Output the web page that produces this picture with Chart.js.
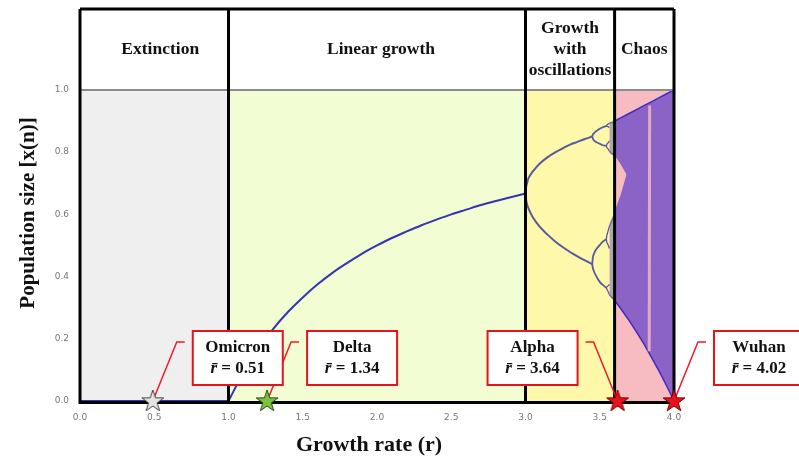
<!DOCTYPE html>
<html>
<head>
<meta charset="utf-8">
<script src="https://cdn.jsdelivr.net/npm/chart.js@4.4.0/dist/chart.umd.min.js"></script>
<style>
  html, body { margin: 0; padding: 0; background: #fff; }
  #wrap { width: 799px; height: 457px; position: relative; }
</style>
</head>
<body>
<div id="wrap"><canvas id="c"></canvas></div>
<script>
// regimes along the growth-rate axis
const regionEdges = [0, 1, 3, 3.6, 4];
const regionNames = [["Extinction"], ["Linear growth"], ["Growth", "with", "oscillations"], ["Chaos"]];
const regionColors = ["#efefef", "#f2fdd4", "#fdf8aa", "#f6bcc1"];
const labelShift = [6, 4, 0, 0];

// extinction (x = 0 up to r = 1)
const rExtinct = [0, 1.0];
const xExtinct = [0, 0];

// single equilibrium branch
const rEquil = [1.0, 1.1, 1.2, 1.3, 1.4, 1.5, 1.6, 1.7, 1.8, 1.9, 2.0, 2.1, 2.2, 2.3, 2.4, 2.5, 2.6, 2.7, 2.8, 2.9, 3.0];
const xEquil = [0, 0.091, 0.167, 0.231, 0.286, 0.333, 0.375, 0.412, 0.444, 0.474, 0.5, 0.524, 0.545, 0.565, 0.583, 0.6, 0.615, 0.63, 0.643, 0.655, 0.667];

// period 2
const rP2 = [3.0, 3.005, 3.01, 3.02, 3.05, 3.1, 3.15, 3.2, 3.25, 3.3, 3.35, 3.4, 3.449];
const xP2hi = [0.667, 0.69, 0.699, 0.716, 0.738, 0.765, 0.784, 0.799, 0.812, 0.824, 0.833, 0.842, 0.85];
const xP2lo = [0.667, 0.643, 0.633, 0.619, 0.59, 0.558, 0.534, 0.513, 0.495, 0.479, 0.465, 0.452, 0.44];

// period 4
const rP4 = [3.449, 3.455, 3.46, 3.47, 3.5, 3.52, 3.544];
const xP4 = [
  [0.85, 0.858, 0.86, 0.865, 0.875, 0.88, 0.884],
  [0.85, 0.842, 0.838, 0.834, 0.827, 0.822, 0.82],
  [0.44, 0.465, 0.472, 0.483, 0.501, 0.512, 0.52],
  [0.44, 0.425, 0.418, 0.407, 0.383, 0.373, 0.364]
];

// period 8
const rP8 = [3.544, 3.548, 3.556, 3.565];
const xP8 = [
  [0.884, 0.887, 0.89, 0.893], [0.884, 0.883, 0.882, 0.879],
  [0.82, 0.825, 0.83, 0.836], [0.82, 0.815, 0.81, 0.803],
  [0.52, 0.532, 0.546, 0.562], [0.52, 0.51, 0.502, 0.49],
  [0.364, 0.367, 0.37, 0.375], [0.364, 0.359, 0.352, 0.342]
];

// fuzzy bands just before r = 3.6
const rBands = [3.565, 3.58, 3.6];
const bandHiTop = [0.893, 0.895, 0.9];
const bandHiBot = [0.803, 0.795, 0.788];
const bandLoTop = [0.562, 0.58, 0.6];
const bandLoBot = [0.342, 0.333, 0.324];

// chaotic envelope
const rChaos = [3.6, 3.65, 3.7, 3.75, 3.8, 3.85, 3.9, 3.95, 4.0];
const chaosTop = [0.9, 0.9125, 0.925, 0.9375, 0.95, 0.9625, 0.975, 0.9875, 1.0];
const chaosBot = [0.324, 0.291, 0.257, 0.22, 0.181, 0.139, 0.095, 0.049, 0];

// gap between the two chaotic bands
const rGap = [3.6, 3.64, 3.68];
const gapTop = [0.79, 0.762, 0.728];
const gapBot = [0.61, 0.661, 0.728];

// period-3 window
const rWindow = [3.833, 3.836];
const xWindow = [0.16, 0.95];

// variants
const starNames = ["Omicron", "Delta", "Alpha", "Wuhan"];
const starMeans = ["0.51", "1.34", "3.64", "4.02"];
const starR = [0.49, 1.26, 3.62, 4.0];
const starFill = ["#e4e4e4", "#7cc142", "#e8121c", "#e8121c"];
const starEdge = ["#444", "#2d4a12", "#700", "#700"];
const labelSide = [1, 1, -1, 1];

const yTicks = [0, 0.2, 0.4, 0.6, 0.8, 1.0];

const pts = (rs, xs) => rs.map((r, i) => ({ x: r, y: xs[i] }));

function starImage(fill, edge) {
  const c = document.createElement("canvas");
  c.width = 26; c.height = 26;
  const g = c.getContext("2d");
  g.beginPath();
  for (let i = 0; i < 10; i++) {
    const rad = i % 2 ? 4.5 : 11.5;
    const a = -Math.PI / 2 + i * Math.PI / 5;
    g.lineTo(13 + rad * Math.cos(a), 13.5 + rad * Math.sin(a));
  }
  g.closePath();
  g.fillStyle = fill; g.fill();
  g.lineWidth = 1; g.strokeStyle = edge; g.stroke();
  return c;
}

const curve = "#3434b4";
const branch = "#585a9e";
const line = (data, color, width, order) => ({
  data, borderColor: color, borderWidth: width, pointRadius: 0, fill: false,
  cubicInterpolationMode: "monotone", order
});

const datasets = [];
datasets.push({
  id: "stars", data: pts(starR, starR.map(() => 0)), showLine: false, clip: false,
  pointStyle: starR.map((r, i) => starImage(starFill[i], starEdge[i])),
  pointRadius: 11, order: 0
});
datasets.push(line(pts(rExtinct, xExtinct), curve, 2, 1));
datasets.push(line(pts(rEquil, xEquil), curve, 2, 1));
datasets.push(line(pts(rP2, xP2hi), branch, 2, 1));
datasets.push(line(pts(rP2, xP2lo), branch, 2, 1));
xP4.forEach(xs => datasets.push(line(pts(rP4, xs), branch, 1.8, 1)));
xP8.forEach(xs => datasets.push(line(pts(rP8, xs), branch, 1.3, 1)));

// fills: top line then bottom line filled to it
const band = (rs, top, bot, color, edge, order) => {
  datasets.push({ data: pts(rs, top), borderColor: edge, borderWidth: 1.5, pointRadius: 0, fill: false, order });
  datasets.push({ data: pts(rs, bot), borderColor: edge, borderWidth: 1.5, pointRadius: 0, fill: "-1", backgroundColor: color, order });
};
band(rBands, bandHiTop, bandHiBot, "rgba(80,60,180,0.45)", "rgba(70,50,175,0.65)", 2);
band(rBands, bandLoTop, bandLoBot, "rgba(80,60,180,0.45)", "rgba(70,50,175,0.65)", 2);
datasets.push(line(pts(rWindow, xWindow), "rgba(246,188,193,0.8)", 3, 3));
band(rGap, gapTop, gapBot, "#f6bcc1", "rgba(246,188,193,0)", 4);
band(rChaos, chaosTop, chaosBot, "rgba(62,32,200,0.58)", "rgba(50,25,190,0.85)", 5);

const frame = {
  id: "frame",
  beforeDraw(chart) {
    const ctx = chart.ctx;
    ctx.save();
    ctx.fillStyle = "#fff";
    ctx.fillRect(0, 0, chart.width, chart.height);
    ctx.restore();
  },
  beforeDatasetsDraw(chart) {
    const { ctx, scales: { x, y } } = chart;
    ctx.save();
    for (let i = 0; i < regionColors.length; i++) {
      const x0 = x.getPixelForValue(regionEdges[i]);
      const x1 = x.getPixelForValue(regionEdges[i + 1]);
      ctx.fillStyle = regionColors[i];
      ctx.fillRect(x0, y.getPixelForValue(1), x1 - x0, y.getPixelForValue(0) - y.getPixelForValue(1));
    }
    ctx.restore();
  },
  beforeDatasetDraw(chart, args) {
    if (chart.data.datasets[args.index].id !== "stars") return;
    const { ctx, chartArea, scales: { x, y } } = chart;
    const left = x.getPixelForValue(0), right = x.getPixelForValue(4);
    const top = chartArea.top, bottom = y.getPixelForValue(0);
    ctx.save();
    // line at x = 1.0
    ctx.strokeStyle = "#8c8c8c"; ctx.lineWidth = 2;
    ctx.beginPath();
    ctx.moveTo(left, y.getPixelForValue(1)); ctx.lineTo(right, y.getPixelForValue(1));
    ctx.stroke();
    // black frame and separators
    ctx.strokeStyle = "#000"; ctx.lineWidth = 3;
    ctx.beginPath();
    ctx.moveTo(left, top); ctx.lineTo(right, top);
    ctx.moveTo(left, top); ctx.lineTo(left, bottom + 3);
    ctx.moveTo(right, top); ctx.lineTo(right, bottom + 3);
    ctx.moveTo(left - 1.5, bottom + 1.5); ctx.lineTo(right + 1.5, bottom + 1.5);
    for (let i = 1; i < regionEdges.length - 1; i++) {
      const px = x.getPixelForValue(regionEdges[i]);
      ctx.moveTo(px, top); ctx.lineTo(px, bottom);
    }
    ctx.stroke();
    // region labels
    ctx.fillStyle = "#111";
    ctx.font = 'bold 17.5px "Liberation Serif"';
    ctx.textAlign = "center"; ctx.textBaseline = "middle";
    const midY = (top + y.getPixelForValue(1)) / 2;
    regionNames.forEach((lines, i) => {
      const cx = (x.getPixelForValue(regionEdges[i]) + x.getPixelForValue(regionEdges[i + 1])) / 2 + labelShift[i];
      lines.forEach((t, k) => ctx.fillText(t, cx, midY + (k - (lines.length - 1) / 2) * 21));
    });
    // leader lines
    ctx.strokeStyle = "#ee1c24"; ctx.lineWidth = 1.5;
    starR.forEach((r, i) => {
      const sx = x.getPixelForValue(r), s = labelSide[i];
      const ey = bottom - 59;
      ctx.beginPath();
      ctx.moveTo(sx, bottom);
      ctx.lineTo(sx + s * 24, ey);
      ctx.lineTo(sx + s * 32, ey);
      ctx.stroke();
    });
    ctx.restore();
  },
  afterDraw(chart) {
    const { ctx, scales: { x, y } } = chart;
    const bottom = y.getPixelForValue(0);
    ctx.save();
    // annotation boxes
    starR.forEach((r, i) => {
      const sx = x.getPixelForValue(r), s = labelSide[i];
      const w = 90, h = 54, bt = bottom - 70;
      const bl = s > 0 ? sx + 40 : sx - 40 - w;
      ctx.fillStyle = "#fff";
      ctx.fillRect(bl, bt, w, h);
      ctx.strokeStyle = "#e3141c"; ctx.lineWidth = 2;
      ctx.strokeRect(bl, bt, w, h);
      const cx = bl + w / 2;
      ctx.fillStyle = "#111";
      ctx.textBaseline = "middle"; ctx.textAlign = "center";
      ctx.font = 'bold 17px "Liberation Serif"';
      ctx.fillText(starNames[i], cx, bt + 17);
      const rest = " = " + starMeans[i];
      ctx.font = 'italic bold 17px "Liberation Serif"';
      const wr = ctx.measureText("r\u0304").width;
      ctx.font = 'bold 17px "Liberation Serif"';
      const wt = ctx.measureText(rest).width;
      const x0 = cx - (wr + wt) / 2;
      ctx.textAlign = "left";
      ctx.font = 'italic bold 17px "Liberation Serif"';
      ctx.fillText("r\u0304", x0, bt + 38);
      ctx.font = 'bold 17px "Liberation Serif"';
      ctx.fillText(rest, x0 + wr, bt + 38);
    });
    // axis titles
    ctx.fillStyle = "#111";
    ctx.textAlign = "center"; ctx.textBaseline = "middle";
    ctx.font = 'bold 22px "Liberation Serif"';
    ctx.fillText("Growth rate (r)", 369, 445);
    ctx.translate(29, 213);
    ctx.rotate(-Math.PI / 2);
    ctx.font = 'bold 21px "Liberation Serif"';
    ctx.fillText("Population size [x(n)]", 0, 0);
    ctx.restore();
  }
};

new Chart(document.getElementById("c"), {
  type: "line",
  data: { datasets },
  options: {
    responsive: true,
    maintainAspectRatio: false,
    animation: false,
    events: [],
    layout: { autoPadding: false, padding: { top: 9, right: 125, left: 0, bottom: 0 } },
    plugins: { legend: { display: false }, tooltip: { enabled: false } },
    scales: {
      x: {
        type: "linear", min: 0, max: 4,
        grid: { display: false }, border: { display: false },
        ticks: {
          stepSize: 0.5, padding: 3, color: "#777",
          font: { family: "DejaVu Sans", size: 9 },
          callback: v => v.toFixed(1), maxRotation: 0
        },
        afterFit: s => { s.height = 56; s.paddingLeft = 0; s.paddingRight = 0; }
      },
      y: {
        type: "linear", min: 0, max: 1.26,
        grid: { display: false }, border: { display: false },
        afterBuildTicks: s => { s.ticks = yTicks.map(v => ({ value: v })); },
        ticks: {
          padding: 3, color: "#777",
          font: { family: "DejaVu Sans", size: 9 },
          callback: v => v.toFixed(1)
        },
        afterFit: s => { s.width = 80; s.paddingTop = 0; s.paddingBottom = 0; }
      }
    }
  },
  plugins: [frame]
});
</script>
</body>
</html>
